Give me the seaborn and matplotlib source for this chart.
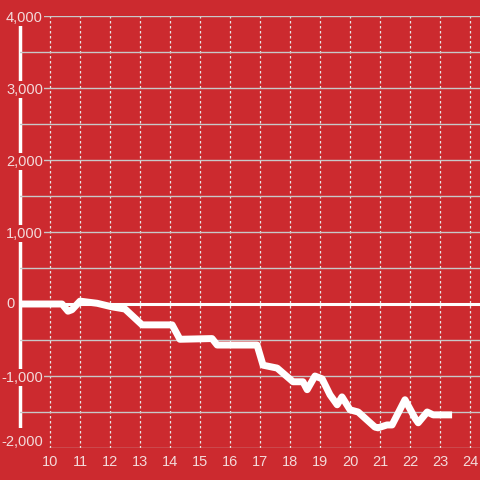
import numpy as np
import pandas as pd
import matplotlib
matplotlib.use("Agg")
import matplotlib.pyplot as plt
from matplotlib.ticker import MultipleLocator, FuncFormatter
import seaborn as sns

# datos
hora = [9.0, 10.4, 10.6, 10.73, 11.0, 11.57, 12.07, 12.5, 13.07, 14.07, 14.33, 15.4,
        15.57, 16.9, 17.1, 17.57, 18.1, 18.43, 18.57, 18.83, 19.07, 19.33, 19.57,
        19.73, 20.0, 20.27, 20.83, 20.93, 21.23, 21.4, 21.83, 22.17, 22.27, 22.57,
        22.77, 23.4]
valor = [0, 0, -100, -80, 40, 10, -40, -70, -290, -290, -490, -480,
         -570, -570, -850, -890, -1080, -1080, -1190, -1000, -1040, -1260, -1400,
         -1290, -1470, -1500, -1710, -1720, -1680, -1680, -1330, -1590, -1650, -1500,
         -1540, -1540]
xticks = list(range(10, 25))
yticks = [-2000, -1000, 0, 1000, 2000, 3000, 4000]

rojo = "#cc2a2f"
texto = "#f3dada"

df = pd.DataFrame({"hora": hora, "valor": valor})

sns.set_style("white", {"axes.facecolor": rojo, "figure.facecolor": rojo})
plt.rcParams["font.family"] = ["Liberation Sans", "DejaVu Sans"]

fig = plt.figure(figsize=(4.8, 4.8), dpi=100)
ax = fig.add_axes([20 / 480, 32 / 480, 460 / 480, 432 / 480])

sns.lineplot(data=df, x="hora", y="valor", ax=ax, color="white", linewidth=5,
             zorder=5, solid_joinstyle="round", solid_capstyle="butt")
ax.axhline(0, color="white", linewidth=2.2, zorder=4)

ax.set_xlim(9, 24.33)
ax.set_ylim(-2000, 4000)
ax.set_xticks(xticks)
ax.set_yticks(yticks)
ax.yaxis.set_minor_locator(MultipleLocator(500))
# 0 y -2,000 se ponen a mano mas abajo
ax.yaxis.set_major_formatter(FuncFormatter(lambda v, p: "" if v in (0, -2000) else f"{int(v):,}"))

ax.grid(axis="y", which="both", color="#c8c8c8", linewidth=1, linestyle="-")
ax.grid(axis="x", which="major", color="#e6e6e6", linewidth=0.9, linestyle=(0, (2, 2)))

ax.tick_params(axis="y", which="both", length=0, pad=-16.5, labelsize=10.5, labelcolor=texto)
ax.tick_params(axis="x", length=0, pad=5, labelsize=10.5, labelcolor=texto)
for lab in ax.get_yticklabels():
    lab.set_bbox(dict(facecolor=rojo, edgecolor="none", pad=1))
ax.yaxis.set_zorder(3)

ax.annotate("0", xy=(0, 0), xycoords=("axes fraction", "data"), xytext=(-3.6, 0),
            textcoords="offset points", ha="right", va="center", fontsize=10.5,
            color=texto, zorder=6, annotation_clip=False)
ax.annotate("-2,000", xy=(0, -2000), xycoords=("axes fraction", "data"), xytext=(16.5, 4.5),
            textcoords="offset points", ha="right", va="center", fontsize=10.5,
            color=texto, zorder=6, annotation_clip=False,
            bbox=dict(facecolor=rojo, edgecolor="none", pad=4.5))

for s in ["top", "right", "bottom"]:
    ax.spines[s].set_visible(False)
ax.spines["left"].set_color("white")
ax.spines["left"].set_linewidth(2.5)
ax.spines["left"].set_zorder(2.6)

ax.set_xlabel("")
ax.set_ylabel("")

fig.savefig("out.png", dpi=100, facecolor=rojo)
